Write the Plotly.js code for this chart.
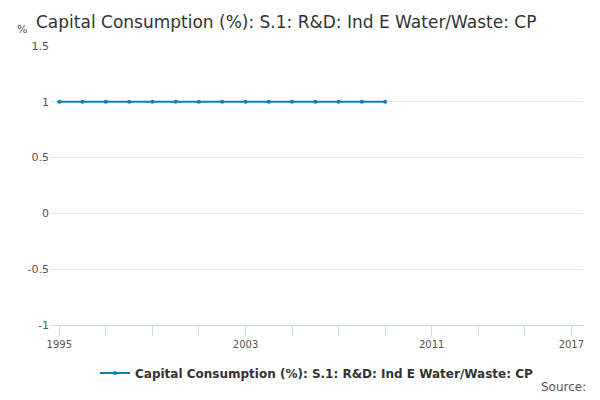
<!DOCTYPE html>
<html>
<head>
<script src="https://cdn.plot.ly/plotly-3.0.1.min.js"></script>
<style>body{margin:0}</style>
</head>
<body>
<div id="plot" style="width:600px;height:400px"></div>
<script>
const years = [1995,1996,1997,1998,1999,2000,2001,2002,2003,2004,2005,2006,2007,2008,2009];
const values = [1,1,1,1,1,1,1,1,1,1,1,1,1,1,1];
const xTicks = [1995, 2003, 2011, 2017];
const yTicks = [-1, -0.5, 0, 0.5, 1, 1.5];
const yLabels = ['-1', '-0.5', '0', '0.5', '1', '1.5'];
const seriesName = 'Capital Consumption (%): S.1: R&D: Ind E Water/Waste: CP';

const trace = {
    x: years,
    y: values,
    name: seriesName,
    mode: 'lines+markers',
    type: 'scatter',
    line: {color: '#0a7fc0', width: 2},
    marker: {color: '#0a7fc0', size: 4}
};

const layout = {
    font: {family: 'DejaVu Sans, sans-serif', color: '#333'},
    title: {text: seriesName, x: 0.06, xanchor: 'left', y: 0.96, font: {size: 17, color: '#333'}},
    margin: {l: 50, r: 17, t: 46, b: 70},
    showlegend: true,
    legend: {orientation: 'h', x: 0.5, xanchor: 'center', y: -0.12, itemwidth: 30,
             font: {size: 12, color: '#333', weight: 'bold'}},
    xaxis: {
        range: [1994.6, 2017.5],
        tickvals: xTicks,
        ticks: 'outside', ticklen: 10, tickcolor: '#ccd6eb',
        minor: {dtick: 2, tick0: 1995, ticks: 'outside', ticklen: 10, tickcolor: '#ccd6eb'},
        showgrid: false, showline: true, linecolor: '#ccd6eb',
        tickfont: {size: 10, color: '#555'}, zeroline: false
    },
    yaxis: {
        range: [-1, 1.5], tickvals: yTicks, ticktext: yLabels,
        gridcolor: '#e6e6e6', zeroline: false,
        tickfont: {size: 11, color: '#555'}
    },
    annotations: [
        {text: '%', xref: 'paper', yref: 'paper', x: -0.065, y: 1.03, xanchor: 'left', yanchor: 'bottom', showarrow: false, font: {size: 11, color: '#555'}},
        {text: 'Source:', xref: 'paper', yref: 'paper', x: 1.01, y: -0.19, xanchor: 'right', yanchor: 'top', showarrow: false, font: {size: 12, color: '#555'}}
    ],
    plot_bgcolor: '#fff', paper_bgcolor: '#fff'
};

Plotly.newPlot('plot', [trace], layout, {displayModeBar: false});
</script>
</body>
</html>
